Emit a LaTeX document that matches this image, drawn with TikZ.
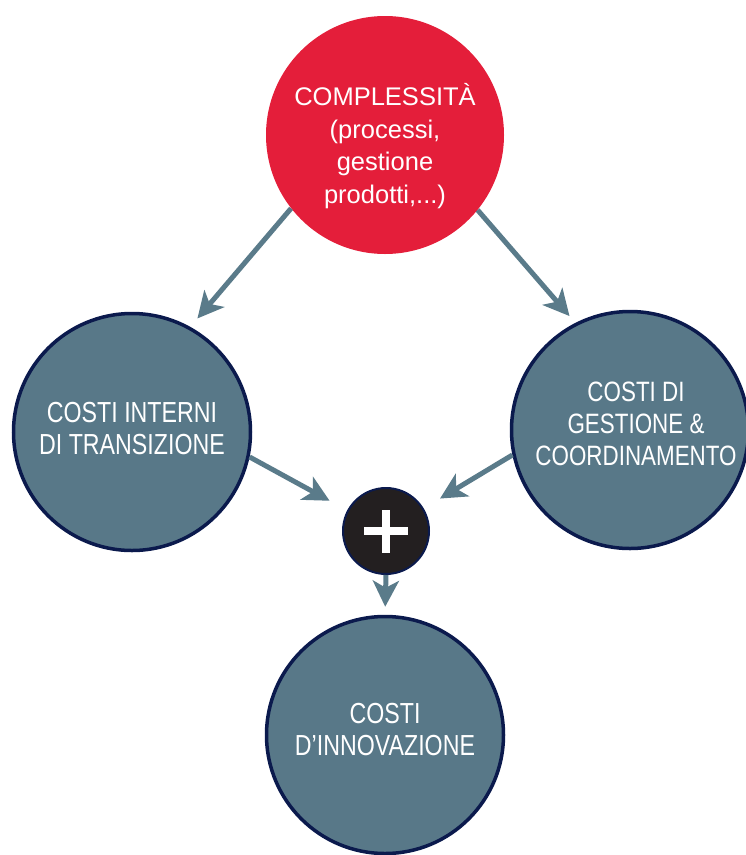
\documentclass[tikz,border=0pt]{standalone}
\usepackage{fontspec}
\setmainfont{Liberation Sans}
\newfontfamily\condfont[FakeStretch=0.8]{Liberation Sans}
\usetikzlibrary{arrows.meta}
\definecolor{rosso}{HTML}{E41E3A}
\definecolor{grigio}{HTML}{587888}
\definecolor{acciaio}{HTML}{5A7B8A}
\definecolor{blu}{HTML}{0B1A4D}
\definecolor{nero}{HTML}{231F20}
\tikzset{
	costo/.style={circle, fill=grigio, draw=blu, line width=3.5pt, minimum size=237pt, inner sep=0pt},
	testo/.style={text=white, align=center, font=\condfont\fontsize{29}{32}\selectfont},
	freccia/.style={draw=acciaio, line width=5pt, -{Stealth[length=26pt,width=26pt,inset=7pt]}}
}
\begin{document}
\begin{tikzpicture}
	\useasboundingbox (0pt,0pt) rectangle (746pt,-855pt);
	\node[circle, fill=rosso, minimum size=238pt, inner sep=0pt] (compl) at (385pt,-135pt) {};
	\node[text=white, align=center, font=\fontsize{25.5}{32.5}\selectfont] (compltxt) at (385pt,-146pt) {COMPLESSIT\`A\\(processi,\\gestione\\prodotti,...)};
	\node[costo] (interni) at (132pt,-432pt) {};
	\node[testo] (internitxt) at (132pt,-429pt) {COSTI INTERNI\\DI TRANSIZIONE};
	\node[costo] (gestione) at (630pt,-430pt) {};
	\node[testo, font=\condfont\fontsize{28}{32}\selectfont] (gestionetxt) at (636pt,-424pt) {COSTI DI\\GESTIONE \&\\COORDINAMENTO};
	\node[circle, fill=nero, draw=blu, line width=2pt, minimum size=86pt, inner sep=0pt] (piu) at (386pt,-531pt) {};
	\draw[white, line width=8pt] ([xshift=-22pt]piu.center) -- ([xshift=22pt]piu.center);
	\draw[white, line width=8pt] ([yshift=21pt]piu.center) -- ([yshift=-22pt]piu.center);
	\node[costo] (innov) at (385pt,-735pt) {};
	\node[testo] (innovtxt) at (385pt,-730pt) {COSTI\\D’INNOVAZIONE};
	\draw[freccia, shorten >=11pt] (compl.218) -- (interni.61);
	\draw[freccia, shorten >=9pt] (compl.321) -- (gestione.117);
	\draw[freccia, shorten >=20pt] (interni.348) -- (piu.152);
	\draw[freccia, shorten >=19pt] (gestione.192) -- (piu.31);
	\draw[freccia, shorten >=8pt] (piu.south) -- (innov.north);
\end{tikzpicture}
\end{document}
